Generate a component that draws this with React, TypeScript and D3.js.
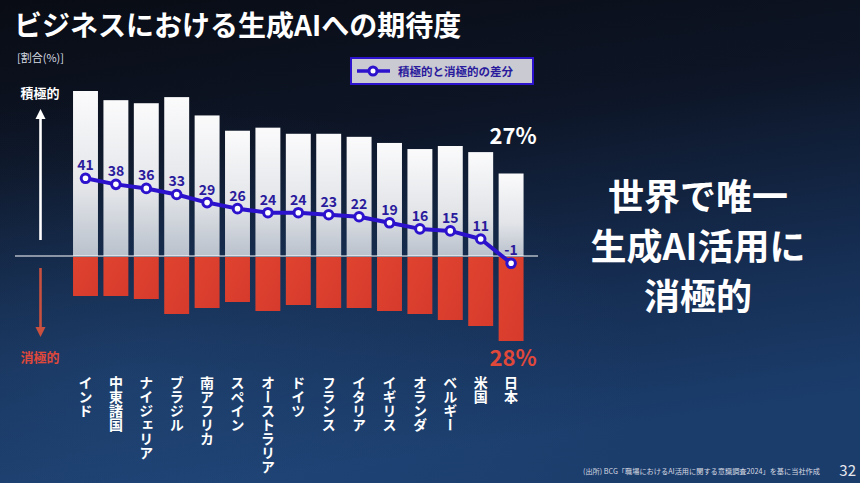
import React, { useEffect } from "react";
import * as d3 from "d3";

const categories = ["インド","中東諸国","ナイジェリア","ブラジル","南アフリカ","スペイン","オーストラリア","ドイツ","フランス","イタリア","イギリス","オランダ","ベルギー","米国","日本"];
const positiveValues = [54,51,50,52,46,41,42,40,40,39,37,35,36,34,27];
const negativeValues = [13,13,14,19,17,15,18,16,17,17,18,19,21,23,28];
const diffValues = [41,38,36,33,29,26,24,24,23,22,19,16,15,11,-1];

const W = 860, H = 483;
const FONT = "'Noto Sans CJK JP', 'Noto Sans', sans-serif";

export default function App() {
  useEffect(() => {
    document.body.style.margin = "0";
  }, []);

  const x = d3.scaleBand<string>().domain(categories).range([70.3, 526.3]).paddingInner(0.18).paddingOuter(0.09);
  const baseY = 256;
  const yPos = d3.scaleLinear().domain([0, 54]).range([baseY, 91]);
  const yNeg = d3.scaleLinear().domain([0, 28]).range([baseY + 1, 341]);
  const yDiff = d3.scaleLinear().domain([-1, 41]).range([263.3, 178.3]);
  const bw = x.bandwidth();
  const cx = (c: string) => (x(c) as number) + bw / 2;

  const line = d3.line<number>().x((_, i) => cx(categories[i])).y((d) => yDiff(d));

  const blue = "#2c12cc";
  const labelBlue = "#2a1a9c";

  return (
    <svg width={W} height={H} style={{ display: "block", position: "absolute", left: 0, top: 0 }} fontFamily={FONT}>
      <defs>
        <linearGradient id="bg" x1="0" y1="0" x2="0.25" y2="1">
          <stop offset="0" stopColor="#090c14" />
          <stop offset="0.35" stopColor="#0d1526" />
          <stop offset="0.7" stopColor="#152c50" />
          <stop offset="1" stopColor="#1b3d6c" />
        </linearGradient>
        <radialGradient id="glow" cx="0.15" cy="0.8" r="0.6">
          <stop offset="0" stopColor="#2a5a94" stopOpacity="0.35" />
          <stop offset="1" stopColor="#2a5a94" stopOpacity="0" />
        </radialGradient>
        <linearGradient id="posBar" x1="0" y1="0" x2="0" y2="1">
          <stop offset="0" stopColor="#fbfbfc" />
          <stop offset="0.6" stopColor="#e2e4e8" />
          <stop offset="1" stopColor="#b9c1cc" />
        </linearGradient>
        <linearGradient id="negBar" x1="0" y1="0" x2="1" y2="1">
          <stop offset="0" stopColor="#e0432f" />
          <stop offset="1" stopColor="#d63a2c" />
        </linearGradient>
      </defs>
      <rect x={0} y={0} width={W} height={H} fill="url(#bg)" />
      <rect x={0} y={0} width={W} height={H} fill="url(#glow)" />

      {/* title */}
      <text x={14} y={36} fill="#ffffff" fontSize={28} fontWeight={700}>ビジネスにおける生成AIへの期待度</text>
      <text x={17} y={62} fill="#d8dbe2" fontSize={11}>[割合(%)]</text>

      {/* legend */}
      <rect x={351} y={58} width={182} height={26} fill="#c9cad2" stroke={blue} strokeWidth={2} />
      <line x1={357} x2={390} y1={71} y2={71} stroke={blue} strokeWidth={3.5} />
      <circle cx={373} cy={71} r={4} fill="#ffffff" stroke={blue} strokeWidth={3} />
      <text x={398} y={75.5} fill={labelBlue} fontSize={11.5} fontWeight={700}>積極的と消極的の差分</text>

      {/* side arrows */}
      <text x={40} y={98} fill="#ffffff" fontSize={13} fontWeight={700} textAnchor="middle">積極的</text>
      <line x1={40.5} x2={40.5} y1={240} y2={118} stroke="#ffffff" strokeWidth={2.6} />
      <path d="M35.5,119 L40.5,109 L45.5,119 Z" fill="#ffffff" />
      <line x1={40.5} x2={40.5} y1={268} y2={328} stroke="#c9503e" strokeWidth={2.6} />
      <path d="M35.5,327 L40.5,337 L45.5,327 Z" fill="#c9503e" />
      <text x={40} y={362} fill="#e0483a" fontSize={13} fontWeight={700} textAnchor="middle">消極的</text>

      {/* bars */}
      {categories.map((c, i) => (
        <g key={c}>
          <rect x={x(c)} y={yPos(positiveValues[i])} width={bw} height={baseY - yPos(positiveValues[i])} fill="url(#posBar)" />
          <rect x={x(c)} y={baseY + 1} width={bw} height={yNeg(negativeValues[i]) - (baseY + 1)} fill="url(#negBar)" />
        </g>
      ))}
      <line x1={15} x2={538} y1={baseY} y2={baseY} stroke="#ffffff" strokeWidth={1.2} />

      {/* diff line */}
      <path d={line(diffValues) as string} fill="none" stroke={blue} strokeWidth={4} strokeLinejoin="round" />
      {diffValues.map((v, i) => (
        <g key={i}>
          <circle cx={cx(categories[i])} cy={yDiff(v)} r={4.3} fill="#ffffff" stroke={blue} strokeWidth={3} />
          <text x={cx(categories[i])} y={yDiff(v) - 8} fill={labelBlue} fontSize={14} fontWeight={700} textAnchor="middle">{v}</text>
        </g>
      ))}

      {/* highlight labels */}
      <text x={513} y={144} fill="#ffffff" fontSize={22} fontWeight={700} textAnchor="middle">27%</text>
      <text x={513} y={366} fill="#e0483a" fontSize={22} fontWeight={700} textAnchor="middle">28%</text>

      {/* category labels (vertical) */}
      {categories.map((c) => (
        <text key={c} x={cx(c)} y={376} fill="#ffffff" fontSize={14} fontWeight={700}
          style={{ writingMode: "vertical-rl" as any }}>{c}</text>
      ))}

      {/* right message */}
      <g fill="#ffffff" fontSize={36} fontWeight={700} textAnchor="middle">
        <text x={698} y={210}>世界で唯一</text>
        <text x={698} y={260}>生成AI活用に</text>
        <text x={698} y={310}>消極的</text>
      </g>

      {/* source */}
      <text x={583} y={474} fill="#d8dbe2" fontSize={7.2}>(出所) BCG「職場におけるAI活用に関する意識調査2024」を基に当社作成</text>
      <text x={856} y={476} fill="#e6e8ee" fontSize={15} textAnchor="end">32</text>
    </svg>
  );
}
